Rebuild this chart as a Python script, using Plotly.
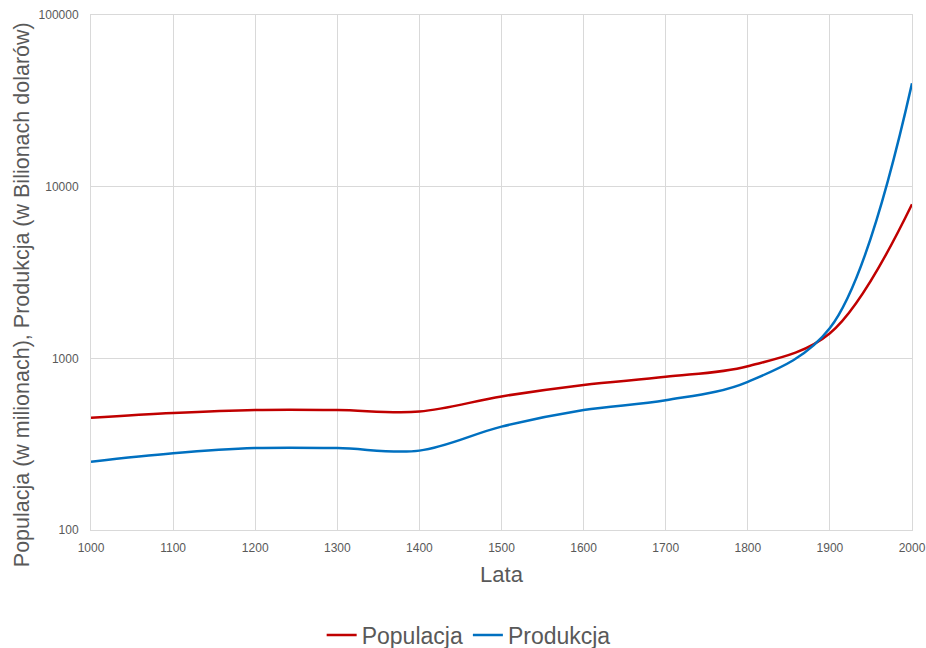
import plotly.graph_objects as go

years = [1000, 1100, 1200, 1300, 1400, 1500, 1600, 1700, 1800, 1900, 2000]
populacja = [450, 480, 500, 500, 490, 600, 700, 780, 900, 1400, 7900]
produkcja = [250, 280, 300, 300, 290, 400, 500, 570, 730, 1500, 40000]

x_ticks = [1000, 1100, 1200, 1300, 1400, 1500, 1600, 1700, 1800, 1900, 2000]
y_ticks = [100, 1000, 10000, 100000]

y_title = "Populacja (w milionach), Produkcja (w Bilionach dolarów)"
x_title = "Lata"

txt = "#595959"
grid = "#d9d9d9"
font_family = "Liberation Sans, Arial, sans-serif"

fig = go.Figure()
fig.add_trace(go.Scatter(x=years, y=populacja, name="Populacja", mode="lines",
                         line=dict(color="#C00000", width=2.5, shape="spline", smoothing=1)))
fig.add_trace(go.Scatter(x=years, y=produkcja, name="Produkcja", mode="lines",
                         line=dict(color="#0070C0", width=2.5, shape="spline", smoothing=1)))

fig.update_layout(
    width=926, height=648,
    margin=dict(l=91, r=14, t=15, b=118, autoexpand=False),
    paper_bgcolor="white", plot_bgcolor="white",
    font=dict(family=font_family, color=txt),
    legend=dict(orientation="h", x=0.46, xanchor="center", y=-0.204, yanchor="middle",
                font=dict(size=23, color=txt), itemwidth=30),
    xaxis=dict(
        range=[1000, 2000], tickvals=x_ticks, ticktext=[str(v) for v in x_ticks],
        showgrid=True, gridcolor=grid, gridwidth=1, zeroline=False,
        showline=True, linecolor=grid, mirror=True, automargin=False,
        tickfont=dict(size=12, color=txt), ticks="", ticklabelstandoff=7,
        ticklabeloverflow="allow",
        title=dict(text=x_title, font=dict(size=22, color=txt), standoff=12),
    ),
    yaxis=dict(
        type="log", range=[2, 5], tickvals=y_ticks, ticktext=[str(v) for v in y_ticks],
        showgrid=True, gridcolor=grid, gridwidth=1, zeroline=False,
        showline=True, linecolor=grid, mirror=True, automargin=False,
        tickfont=dict(size=12, color=txt), ticks="", ticklabelstandoff=9,
        ticklabeloverflow="allow",
    ),
    annotations=[dict(
        text=y_title, textangle=-90, xref="paper", yref="paper",
        x=-0.084, y=0.456, xanchor="center", yanchor="middle", showarrow=False,
        font=dict(size=21.5, color=txt),
    )],
)

# remove the default 8px page margin so the 926x648 figure fills the window exactly
fig.write_html("out.html", config={"displayModeBar": False},
               post_script="document.body.style.margin='0';document.body.style.overflow='hidden';")
